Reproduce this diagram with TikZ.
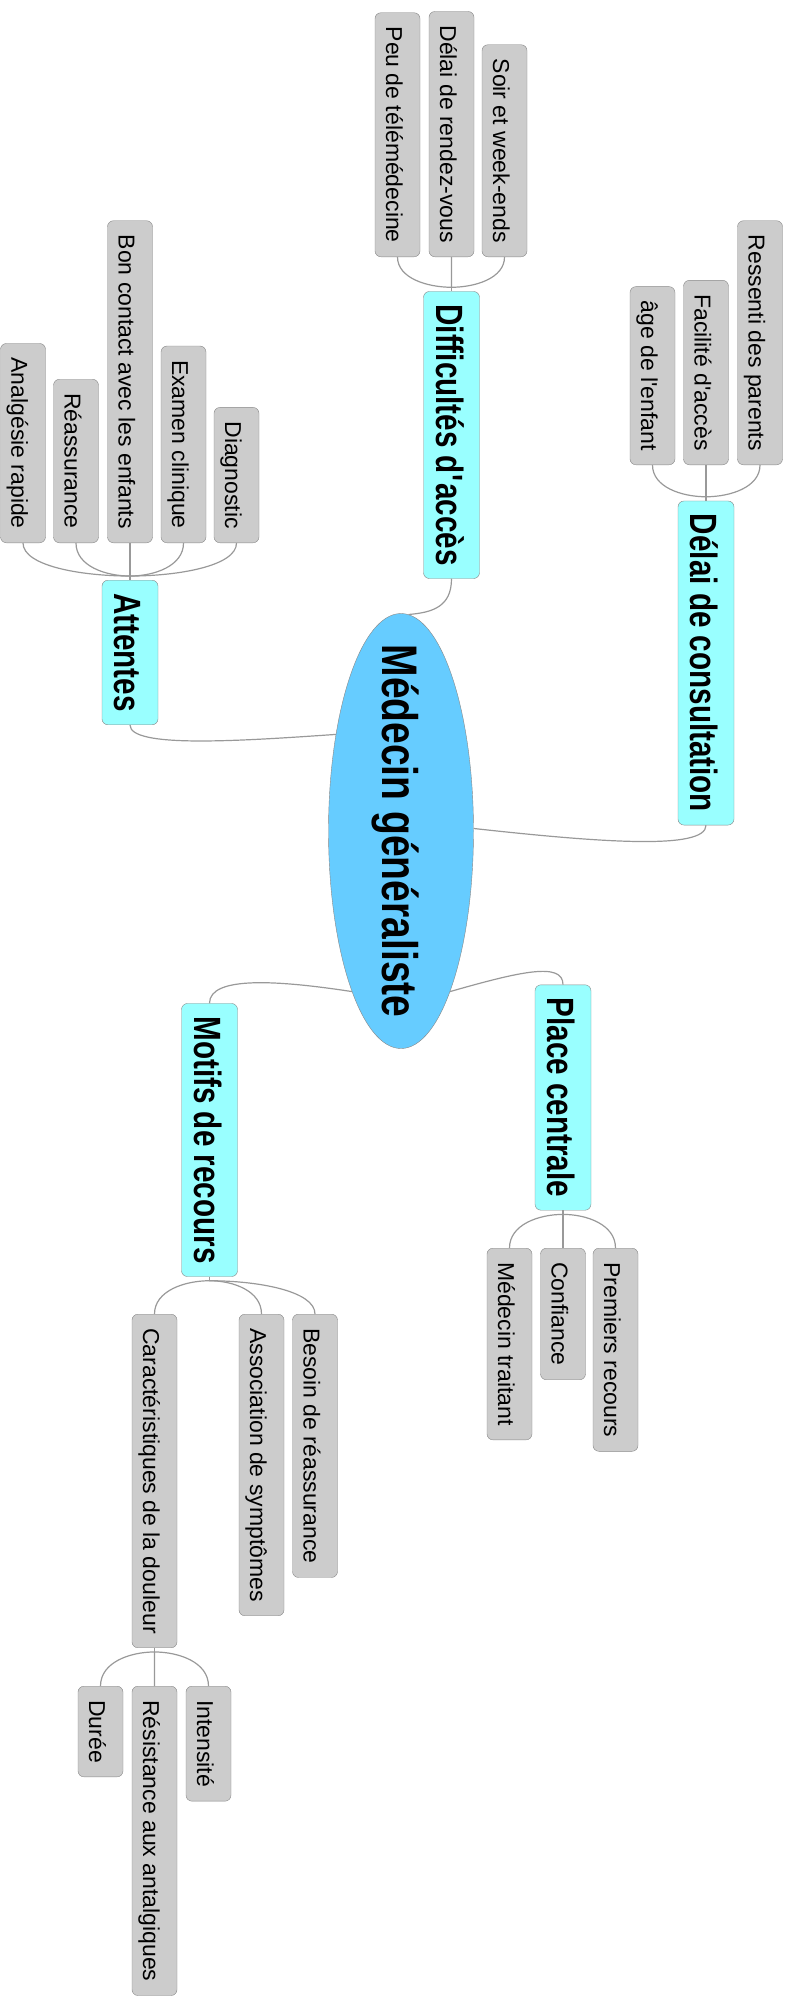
\documentclass[tikz,border=0pt]{standalone}
\usepackage{fontspec}
\setmainfont{Liberation Sans}
\newfontfamily\titlefont[FakeStretch=0.78]{Liberation Sans}
\usetikzlibrary{shapes.geometric,calc}

\newcommand{\leaffont}{\fontsize{23}{27}\selectfont}
\newcommand{\branchfont}{\titlefont\bfseries\fontsize{38}{44}\selectfont}
\newcommand{\hubfont}{\titlefont\bfseries\fontsize{50}{58}\selectfont}

\begin{document}
\begin{tikzpicture}[x=1pt,y=-1pt,
  leaf/.style={draw=boxline,fill=leafgray,rounded corners=6pt,rotate=-90,
    minimum height=45pt,inner xsep=14pt,inner ysep=0pt,
    text height=23pt,text depth=0pt,font=\leaffont,text=black},
  branch/.style={draw=boxline,fill=branchcyan,rounded corners=6pt,rotate=-90,
    minimum height=56pt,inner xsep=13pt,inner ysep=0pt,
    text height=32pt,text depth=1pt,font=\branchfont},
  hub/.style={ellipse,draw=boxline,fill=hubblue,minimum width=145pt,
    minimum height=435pt,inner sep=0pt},
  hubtext/.style={rotate=-90,inner sep=0pt,text height=39pt,text depth=1pt,font=\hubfont},
  twig/.style={draw=twiggray,line width=1.2pt}]
\definecolor{leafgray}{HTML}{CCCCCC}
\definecolor{branchcyan}{HTML}{99FFFF}
\definecolor{hubblue}{HTML}{66CCFF}
\definecolor{boxline}{HTML}{888888}
\definecolor{twiggray}{HTML}{999999}
\useasboundingbox (0,0) rectangle (789,1998);

% centre
\node[hub] (hub) at (401,831) {};
\node[hubtext] (title) at (hub.center) {Médecin généraliste};

% main branches
\node[branch] (diff) at (451.5,435) {Difficultés d\textquotesingle accès};
\node[branch] (delai) at (706,663) {Délai de consultation};
\node[branch] (att) at (130,652.5) {Attentes};
\node[branch] (place) at (563,1097.5) {Place centrale};
\node[branch] (motifs) at (209.5,1140) {Motifs de recours};

\draw[twig] (diff.east) .. controls +(0,28) and +(24,-2) .. (hub.88);
\draw[twig] (att.east) .. controls +(0,23) and +(-101,7) .. (hub.124);
\draw[twig] (delai.east) .. controls +(0,25) and +(127,14) .. (hub.2);
\draw[twig] (hub.-73) .. controls +(70,-20) and +(0,-23) .. (place.west);
\draw[twig] (hub.-107) .. controls +(-72,-11) and +(0,-28) .. (motifs.west);

% Difficultes d'acces
\node[leaf,anchor=east] (peu) at (397.5,257) {Peu de télémédecine};
\node[leaf,anchor=east] (rdv) at (451.5,257) {Délai de rendez-vous};
\node[leaf,anchor=east] (soir) at (504.5,257) {Soir et week-ends};
\coordinate (jdiff) at ([yshift=4pt]diff.west);
\draw[twig] (jdiff) -- (diff.west);
\foreach \c in {peu,rdv,soir}
  \draw[twig] (jdiff) .. controls ($(jdiff)!0.45!(\c.east |- jdiff)$)
    and ($(\c.east)!0.7!(\c.east |- jdiff)$) .. (\c.east);

% Delai de consultation
\node[leaf,anchor=east] (age) at (652.5,465) {âge de l\textquotesingle enfant};
\node[leaf,anchor=east] (facil) at (706,465) {Facilité d\textquotesingle accès};
\node[leaf,anchor=east] (ressenti) at (760,465) {Ressenti des parents};
\coordinate (jdelai) at ([yshift=4pt]delai.west);
\draw[twig] (jdelai) -- (delai.west);
\foreach \c in {age,facil,ressenti}
  \draw[twig] (jdelai) .. controls ($(jdelai)!0.45!(\c.east |- jdelai)$)
    and ($(\c.east)!0.7!(\c.east |- jdelai)$) .. (\c.east);

% Attentes
\node[leaf,anchor=east] (analg) at (23,543) {Analgésie rapide};
\node[leaf,anchor=east] (reass) at (76,543) {Réassurance};
\node[leaf,anchor=east] (contact) at (130,543) {Bon contact avec les enfants};
\node[leaf,anchor=east] (examen) at (183.5,543) {Examen clinique};
\node[leaf,anchor=east] (diag) at (236.5,543) {Diagnostic};
\coordinate (jatt) at ([yshift=4pt]att.west);
\draw[twig] (jatt) -- (att.west);
\foreach \c in {analg,reass,contact,examen,diag}
  \draw[twig] (jatt) .. controls ($(jatt)!0.45!(\c.east |- jatt)$)
    and ($(\c.east)!0.7!(\c.east |- jatt)$) .. (\c.east);

% Place centrale
\node[leaf,anchor=west] (traitant) at (509.5,1248) {Médecin traitant};
\node[leaf,anchor=west] (confiance) at (563,1248) {Confiance};
\node[leaf,anchor=west] (premiers) at (615.5,1248) {Premiers recours};
\coordinate (jplace) at ([yshift=-4pt]place.east);
\draw[twig] (jplace) -- (place.east);
\foreach \c in {traitant,confiance,premiers}
  \draw[twig] (jplace) .. controls ($(jplace)!0.45!(\c.west |- jplace)$)
    and ($(\c.west)!0.7!(\c.west |- jplace)$) .. (\c.west);

% Motifs de recours
\node[leaf,anchor=west] (caract) at (154.5,1314) {Caractéristiques de la douleur};
\node[leaf,anchor=west] (assoc) at (261.5,1314) {Association de symptômes};
\node[leaf,anchor=west] (besoin) at (315,1314) {Besoin de réassurance};
\coordinate (jmotifs) at ([yshift=-4pt]motifs.east);
\draw[twig] (jmotifs) -- (motifs.east);
\foreach \c in {caract,assoc,besoin}
  \draw[twig] (jmotifs) .. controls ($(jmotifs)!0.45!(\c.west |- jmotifs)$)
    and ($(\c.west)!0.7!(\c.west |- jmotifs)$) .. (\c.west);

% Caracteristiques de la douleur
\node[leaf,anchor=west] (duree) at (100.5,1686) {Durée};
\node[leaf,anchor=west] (resist) at (154.5,1686) {Résistance aux antalgiques};
\node[leaf,anchor=west] (intens) at (208.5,1686) {Intensité};
\coordinate (jcaract) at ([yshift=-4pt]caract.east);
\draw[twig] (jcaract) -- (caract.east);
\foreach \c in {duree,resist,intens}
  \draw[twig] (jcaract) .. controls ($(jcaract)!0.45!(\c.west |- jcaract)$)
    and ($(\c.west)!0.7!(\c.west |- jcaract)$) .. (\c.west);
\end{tikzpicture}
\end{document}
